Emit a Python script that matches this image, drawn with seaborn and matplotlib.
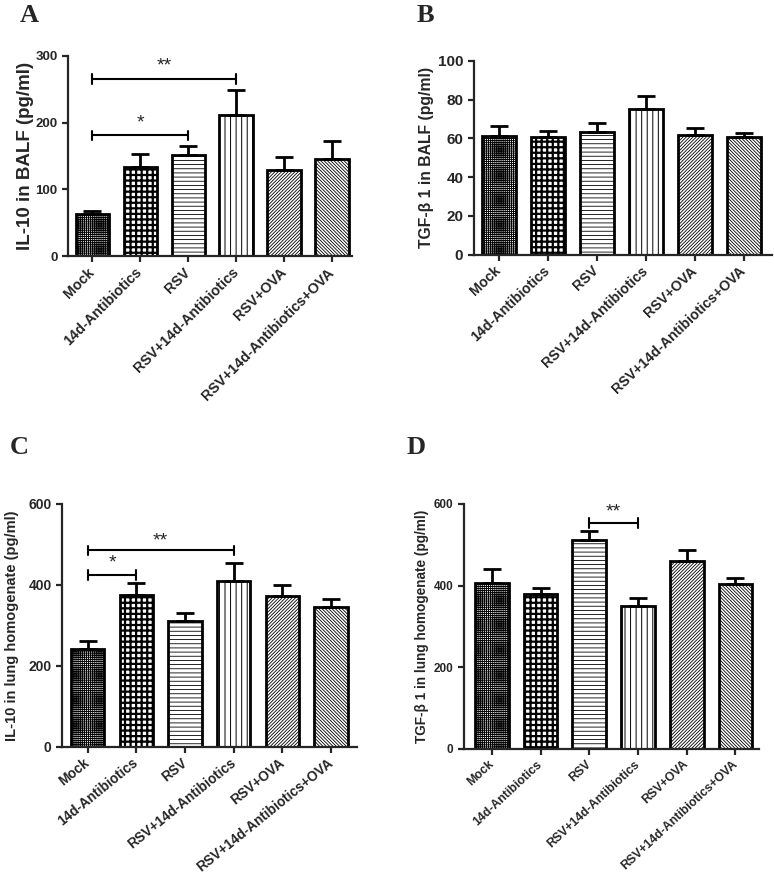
import numpy as np
import matplotlib
matplotlib.use("Agg")
import matplotlib.pyplot as plt
import seaborn as sns

groups = ['Mock', '14d-Antibiotics', 'RSV', 'RSV+14d-Antibiotics', 'RSV+OVA',
          'RSV+14d-Antibiotics+OVA']

# panel A: IL-10 in BALF
a_mean = [63, 133, 152, 212, 129, 146]
a_top = [68, 153, 165, 248, 148, 173]
# panel B: TGF-b1 in BALF
b_mean = [61, 60.5, 63.5, 75, 62, 60.5]
b_top = [66.5, 64, 68, 82, 65.5, 63]
# panel C: IL-10 in lung homogenate
c_mean = [241, 376, 310, 409, 373, 346]
c_top = [261, 404, 330, 454, 401, 365]
# panel D: TGF-b1 in lung homogenate
d_mean = [407, 380, 511, 349, 459, 403]
d_top = [440, 395, 533, 370, 486, 418]

hatches = ['++++++++', '+++', '----', '|||', '//////////', '\\\\\\\\\\\\\\\\\\\\']
hatch_lw = [0.7, 1.6, 0.6, 0.7, 0.6, 0.6]

sns.set_style('ticks')
plt.rcParams['font.family'] = ['Liberation Sans', 'DejaVu Sans']
plt.rcParams['font.weight'] = 'bold'
plt.rcParams['axes.linewidth'] = 1.6

fig = plt.figure(figsize=(7.74, 8.84), dpi=100)


def panel(rect, means, tops, ylim, yticks, ylabel, ylsize, ylab_x, xlim,
          xtsize, xrot, ytsize, letter, letter_pos):
    ax = fig.add_axes(rect)
    sns.barplot(x=groups, y=means, ax=ax, color='white', edgecolor='black',
                linewidth=2, width=0.69, errorbar=None)
    for p, h, lw in zip(ax.patches, hatches, hatch_lw):
        p.set_facecolor('white')
        p.set_hatch(h)
        try:
            p.set_hatch_linewidth(lw)
        except AttributeError:
            pass
    err = np.array(tops) - np.array(means)
    ax.errorbar(range(len(groups)), means, yerr=[np.zeros(len(groups)), err],
                fmt='none', ecolor='black', elinewidth=2, capsize=6.5, capthick=2,
                zorder=3)
    ax.set_ylim(*ylim)
    ax.set_yticks(yticks)
    ax.set_xlim(*xlim)
    sns.despine(ax=ax)
    ax.tick_params(axis='both', direction='out', length=4, width=1.6)
    ax.tick_params(axis='y', labelsize=ytsize)
    ax.tick_params(axis='x', pad=6)
    ax.set_xticks(range(len(groups)))
    ax.set_xticklabels(groups, rotation=xrot, ha='right', va='center',
                       rotation_mode='anchor', fontweight='bold', fontsize=xtsize)
    for t in ax.get_yticklabels():
        t.set_fontweight('bold')
    ax.set_ylabel(ylabel, fontsize=ylsize, fontweight='bold', va='center')
    ax.yaxis.set_label_coords(ylab_x, 0.5)
    ax.set_xlabel('')
    fig.text(letter_pos[0], letter_pos[1], letter, family='Liberation Serif',
             fontweight='bold', fontsize=19, ha='left', va='top')
    return ax


def bracket(ax, x1, x2, y, h, label, ty):
    ax.plot([x1, x2], [y, y], color='black', lw=1.5)
    ax.plot([x1, x1], [y - h, y + h], color='black', lw=1.5)
    ax.plot([x2, x2], [y - h, y + h], color='black', lw=1.5)
    ax.text((x1 + x2) / 2, ty, label, ha='center', va='center', fontsize=14,
            fontweight='normal')


axA = panel([0.088, 0.710, 0.367, 0.227], a_mean, a_top, (0, 300), [0, 100, 200, 300],
            'IL-10 in BALF (pg/ml)', 13.5, -0.151, (-0.5, 5.42), 10.4, 45, 9.5,
            'A', (0.025, 0.995))
bracket(axA, 0, 3, 265, 7, '**', 285)
bracket(axA, 0, 2, 181, 7, '*', 199)

axB = panel([0.612, 0.712, 0.385, 0.219], b_mean, b_top, (0, 100), [0, 20, 40, 60, 80, 100],
            'TGF-β 1 in BALF (pg/ml)', 11.3, -0.158, (-0.51, 5.57), 10.2, 43.5, 11,
            'B', (0.538, 0.995))

axC = panel([0.080, 0.155, 0.381, 0.275], c_mean, c_top, (0, 600), [0, 200, 400, 600],
            'IL-10 in lung homogenate (pg/ml)', 10.5, -0.17, (-0.53, 5.53), 9.8, 39, 10,
            'C', (0.012, 0.507))
bracket(axC, 0, 3, 485, 12, '**', 508)
bracket(axC, 0, 1, 425, 12, '*', 453)

axD = panel([0.599, 0.153, 0.382, 0.277], d_mean, d_top, (0, 600), [0, 200, 400, 600],
            'TGF-β 1 in lung homogenate (pg/ml)', 9.8, -0.142, (-0.58, 5.49), 8.8, 43, 8.5,
            'D', (0.525, 0.507))
bracket(axD, 2, 3, 553, 12, '**', 581)

fig.savefig('out.png', dpi=100)
